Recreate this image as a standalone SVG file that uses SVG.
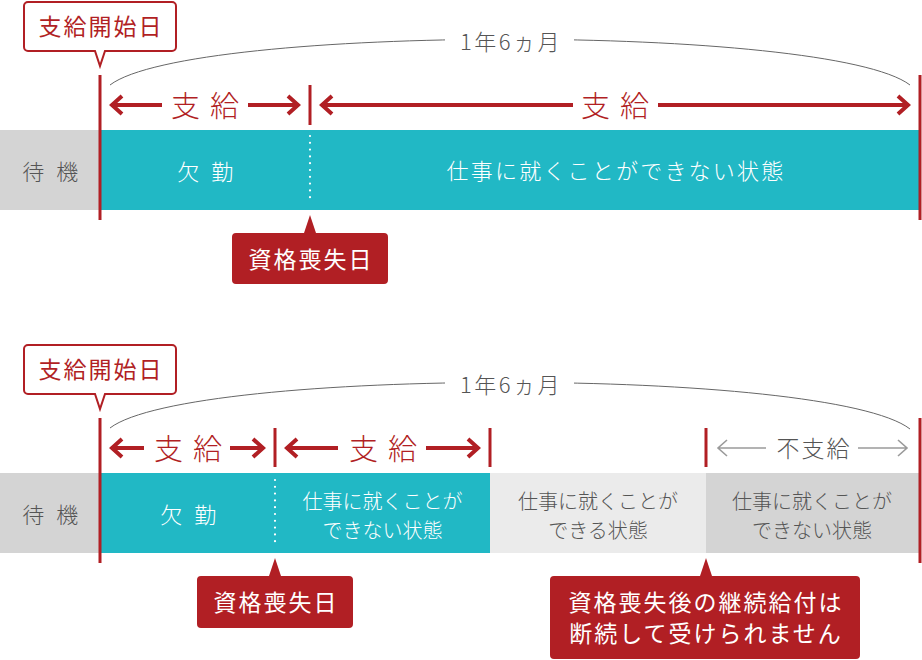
<svg xmlns="http://www.w3.org/2000/svg" width="922" height="660" viewBox="0 0 922 660">
<style>
text{font-family:"Noto Sans CJK JP","Noto Sans",sans-serif;text-anchor:middle;font-weight:300}
.tr{fill:#b11f24}
.tw{fill:#ffffff}
.tg{fill:#555555}
.call{font-size:23px;letter-spacing:2px;font-weight:400}
.big{font-size:29px;letter-spacing:10px}
.bar{font-size:22px}
.two{font-size:20px}
.dur{font-size:22px;letter-spacing:2.5px}
.teal{fill:#21b8c5}
.g1{fill:#d4d4d4}
.g2{fill:#ebebeb}
.rl{stroke:#b11f24;stroke-width:3;fill:none}
.ra{stroke:#b11f24;stroke-width:4;fill:none}
.ga{stroke:#9a9a9a;stroke-width:1.6;fill:none}
.arc{stroke:#666666;stroke-width:1;fill:none}
.dots{stroke:#ffffff;stroke-width:2.2;stroke-linecap:round;stroke-dasharray:0 6.8;fill:none}
.cw{fill:#ffffff;stroke:#b11f24;stroke-width:2}
.cr{fill:#b11f24}
</style>
<defs>
<mask id="gap" maskUnits="userSpaceOnUse" x="0" y="0" width="922" height="660">
<rect x="0" y="0" width="922" height="660" fill="#fff"/>
<rect x="445" y="20" width="129" height="40" fill="#000"/>
<rect x="445" y="363" width="129" height="40" fill="#000"/>
</mask>
</defs>

<!-- ===== TOP ===== -->
<g id="top-wait"><rect class="g1" x="0" y="130" width="100" height="80"/><text class="bar tg" x="52" y="180" letter-spacing="3.5">待 機</text></g>
<g id="top-absence"><rect class="teal" x="100" y="130" width="210" height="80"/><text class="bar tw" x="207" y="180" letter-spacing="3.5">欠 勤</text></g>
<g id="top-unable"><rect class="teal" x="309" y="130" width="610" height="80"/><text class="bar tw" x="616" y="179" letter-spacing="2.2">仕事に就くことができない状態</text></g>
<g id="top-start-callout"><path class="cw" d="M28,2 H172 A4,4 0 0 1 176,6 V47 A4,4 0 0 1 172,51 H105 L100,66 L95,51 H28 A4,4 0 0 1 24,47 V6 A4,4 0 0 1 28,2 Z"/><text class="call tr" x="101" y="35">支給開始日</text></g>
<g id="top-loss-callout"><path class="cr" d="M236,233 H304 L310,215 L316,233 H384 A4,4 0 0 1 388,237 V280 A4,4 0 0 1 384,284 H236 A4,4 0 0 1 232,280 V237 A4,4 0 0 1 236,233 Z"/><text class="call tw" x="311" y="268">資格喪失日</text></g>
<g id="top-duration"><text class="dur tg" x="511" y="50">1年6ヵ月</text></g>
<g id="top-pay1"><text class="big tr" x="210" y="117">支給</text></g>
<g id="top-pay2"><text class="big tr" x="620" y="117">支給</text></g>

<g id="top-connectors">
<path class="arc" mask="url(#gap)" d="M110,85 C190,24 830,24 910,85"/>
<line class="rl" x1="100" y1="75" x2="100" y2="220"/>
<line class="rl" x1="920" y1="75" x2="920" y2="220"/>
<line class="rl" x1="310" y1="85" x2="310" y2="125"/>
<line class="dots" x1="310" y1="136" x2="310" y2="204"/>
<path class="ra" d="M111,105 H162 M122,96 L112,105 L122,114"/>
<path class="ra" d="M248,105 H299 M288,96 L298,105 L288,114"/>
<path class="ra" d="M321,105 H573 M332,96 L322,105 L332,114"/>
<path class="ra" d="M658,105 H909 M898,96 L908,105 L898,114"/>
</g>

<!-- ===== BOTTOM ===== -->
<g id="bot-wait"><rect class="g1" x="0" y="473" width="100" height="80"/><text class="bar tg" x="52" y="523" letter-spacing="3.5">待 機</text></g>
<g id="bot-absence"><rect class="teal" x="100" y="473" width="176" height="80"/><text class="bar tw" x="190" y="523" letter-spacing="3.5">欠 勤</text></g>
<g id="bot-unable"><rect class="teal" x="275" y="473" width="215" height="80"/><text class="two tw" x="382.5" y="509">仕事に就くことが</text><text class="two tw" x="382.5" y="538">できない状態</text></g>
<g id="bot-able"><rect class="g2" x="490" y="473" width="216" height="80"/><text class="two tg" x="598" y="509">仕事に就くことが</text><text class="two tg" x="598" y="538">できる状態</text></g>
<g id="bot-unable2"><rect class="g1" x="706" y="473" width="213" height="80"/><text class="two tg" x="812" y="509">仕事に就くことが</text><text class="two tg" x="812" y="538">できない状態</text></g>
<g id="bot-start-callout"><path class="cw" d="M28,345 H172 A4,4 0 0 1 176,349 V390 A4,4 0 0 1 172,394 H105 L100,409 L95,394 H28 A4,4 0 0 1 24,390 V349 A4,4 0 0 1 28,345 Z"/><text class="call tr" x="101" y="378">支給開始日</text></g>
<g id="bot-loss-callout"><path class="cr" d="M201,576 H269 L275,558 L281,576 H349 A4,4 0 0 1 353,580 V624 A4,4 0 0 1 349,628 H201 A4,4 0 0 1 197,624 V580 A4,4 0 0 1 201,576 Z"/><text class="call tw" x="276" y="611">資格喪失日</text></g>
<g id="bot-note-callout"><path class="cr" d="M554,576 H700 L706,558 L712,576 H856 A4,4 0 0 1 860,580 V655 A4,4 0 0 1 856,659 H554 A4,4 0 0 1 550,655 V580 A4,4 0 0 1 554,576 Z"/><text class="call tw" x="706" y="611">資格喪失後の継続給付は</text><text class="call tw" x="706" y="642">断続して受けられません</text></g>
<g id="bot-duration"><text class="dur tg" x="511" y="393">1年6ヵ月</text></g>
<g id="bot-pay1"><text class="big tr" x="193" y="460">支給</text></g>
<g id="bot-pay2"><text class="big tr" x="388" y="460">支給</text></g>
<g id="bot-nopay"><text class="tg" x="814" y="457" font-size="23" letter-spacing="2">不支給</text></g>

<g id="bot-connectors">
<path class="arc" mask="url(#gap)" d="M110,428 C190,367 830,367 910,429"/>
<line class="rl" x1="100" y1="418" x2="100" y2="563"/>
<line class="rl" x1="920" y1="418" x2="920" y2="563"/>
<line class="rl" x1="275" y1="428" x2="275" y2="467"/>
<line class="rl" x1="490" y1="428" x2="490" y2="467"/>
<line class="rl" x1="706" y1="428" x2="706" y2="467"/>
<line class="dots" x1="275" y1="480" x2="275" y2="547"/>
<path class="ra" d="M111,448 H144 M122,439 L112,448 L122,457"/>
<path class="ra" d="M230,448 H264 M253,439 L263,448 L253,457"/>
<path class="ra" d="M286,448 H338 M297,439 L287,448 L297,457"/>
<path class="ra" d="M426,448 H479 M468,439 L478,448 L468,457"/>
<path class="ga" d="M718,448 H766 M727,440 L718,448 L727,456"/>
<path class="ga" d="M858,448 H907 M898,440 L907,448 L898,456"/>
</g>
</svg>
